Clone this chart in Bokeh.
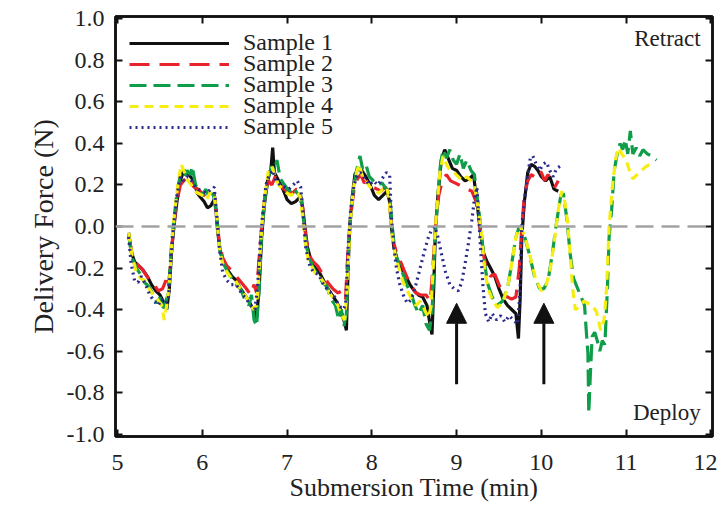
from bokeh.plotting import figure
from bokeh.models import (Legend, LegendItem, Span, Arrow, NormalHead, Label,
                          LinearAxis, FixedTicker, PrintfTickFormatter, CustomJSTickFormatter)
from bokeh.embed import file_html
from bokeh.resources import INLINE

# ---------------- data ----------------
s1_t = [5.13, 5.16, 5.20, 5.25, 5.30, 5.35, 5.40, 5.45, 5.50, 5.55, 5.58, 5.61, 5.64, 5.67, 5.70, 5.74, 5.78, 5.82, 5.86, 5.90,
        5.94, 5.98, 6.02, 6.06, 6.10, 6.14, 6.16, 6.18, 6.21, 6.25, 6.30, 6.35, 6.40, 6.45, 6.50, 6.55, 6.60, 6.64, 6.67, 6.70,
        6.73, 6.77, 6.81, 6.83, 6.85, 6.90, 6.95, 7.00, 7.05, 7.10, 7.15, 7.18, 7.21, 7.24, 7.28, 7.33, 7.38, 7.43, 7.48, 7.53,
        7.58, 7.63, 7.67, 7.70, 7.72, 7.74, 7.77, 7.80, 7.84, 7.88, 7.93, 7.98, 8.03, 8.08, 8.13, 8.18, 8.21, 8.23, 8.26, 8.30,
        8.35, 8.40, 8.45, 8.50, 8.55, 8.60, 8.65, 8.69, 8.71, 8.73, 8.75, 8.78, 8.82, 8.86, 8.90, 8.95, 9.00, 9.05, 9.10, 9.15,
        9.20, 9.23, 9.26, 9.29, 9.32, 9.36, 9.40, 9.45, 9.50, 9.55, 9.60, 9.65, 9.70, 9.73, 9.75, 9.77, 9.80, 9.84, 9.88, 9.92,
        9.96, 10.00, 10.05, 10.10, 10.15, 10.20]
s1_v = [-0.03, -0.12, -0.17, -0.19, -0.21, -0.24, -0.28, -0.31, -0.33, -0.37, -0.40, -0.30, -0.10, 0.02, 0.12, 0.22, 0.27, 0.26, 0.24, 0.22,
        0.16, 0.14, 0.12, 0.09, 0.10, 0.13, 0.08, -0.02, -0.12, -0.17, -0.21, -0.24, -0.26, -0.30, -0.33, -0.36, -0.40, -0.44, -0.30, -0.05,
        0.10, 0.22, 0.28, 0.38, 0.26, 0.22, 0.18, 0.13, 0.11, 0.12, 0.14, 0.10, 0.00, -0.10, -0.16, -0.20, -0.22, -0.26, -0.30, -0.33,
        -0.36, -0.40, -0.45, -0.50, -0.20, 0.00, 0.15, 0.25, 0.28, 0.27, 0.24, 0.20, 0.15, 0.13, 0.15, 0.17, 0.12, 0.00, -0.10, -0.16,
        -0.20, -0.24, -0.28, -0.31, -0.33, -0.34, -0.38, -0.48, -0.52, -0.30, -0.02, 0.15, 0.32, 0.37, 0.33, 0.28, 0.27, 0.24, 0.22, 0.23,
        0.25, 0.15, 0.05, -0.05, -0.13, -0.17, -0.20, -0.24, -0.30, -0.35, -0.38, -0.40, -0.42, -0.54, -0.35, -0.05, 0.12, 0.26, 0.30, 0.29,
        0.27, 0.24, 0.22, 0.24, 0.18, 0.17]

s2_t = [5.13, 5.17, 5.22, 5.28, 5.33, 5.38, 5.43, 5.48, 5.53, 5.57, 5.60, 5.63, 5.66, 5.70, 5.74, 5.78, 5.82, 5.86, 5.90, 5.95,
        6.00, 6.05, 6.10, 6.14, 6.17, 6.20, 6.24, 6.29, 6.34, 6.40, 6.46, 6.52, 6.57, 6.61, 6.64, 6.67, 6.70, 6.74, 6.78, 6.82,
        6.86, 6.91, 6.96, 7.01, 7.06, 7.11, 7.16, 7.19, 7.22, 7.26, 7.31, 7.36, 7.42, 7.48, 7.54, 7.60, 7.65, 7.69, 7.72, 7.75,
        7.79, 7.83, 7.87, 7.91, 7.96, 8.01, 8.06, 8.11, 8.16, 8.20, 8.23, 8.26, 8.30, 8.35, 8.41, 8.46, 8.52, 8.58, 8.64, 8.69,
        8.72, 8.75, 8.79, 8.83, 8.88, 8.93, 8.98, 9.03, 9.08, 9.13, 9.18, 9.23, 9.27, 9.31, 9.35, 9.40, 9.45, 9.50, 9.55, 9.60,
        9.65, 9.70, 9.74, 9.77, 9.80, 9.84, 9.88, 9.92, 9.96, 10.00, 10.04, 10.08, 10.12, 10.16, 10.20]
s2_v = [-0.04, -0.13, -0.18, -0.20, -0.23, -0.26, -0.28, -0.31, -0.30, -0.26, -0.30, -0.15, 0.00, 0.12, 0.20, 0.22, 0.24, 0.22, 0.19, 0.18,
        0.16, 0.14, 0.15, 0.16, 0.05, -0.08, -0.15, -0.19, -0.21, -0.24, -0.27, -0.30, -0.33, -0.28, -0.32, -0.15, 0.00, 0.15, 0.22, 0.20,
        0.24, 0.21, 0.18, 0.17, 0.16, 0.18, 0.17, 0.07, -0.05, -0.14, -0.17, -0.19, -0.23, -0.27, -0.30, -0.32, -0.31, -0.35, -0.10, 0.05,
        0.18, 0.23, 0.25, 0.21, 0.22, 0.19, 0.18, 0.17, 0.19, 0.16, 0.02, -0.08, -0.14, -0.18, -0.24, -0.28, -0.32, -0.33, -0.33, -0.36,
        -0.20, 0.00, 0.15, 0.22, 0.25, 0.22, 0.21, 0.20, 0.19, 0.18, 0.17, 0.12, 0.02, -0.12, -0.20, -0.24, -0.23, -0.28, -0.33, -0.34,
        -0.35, -0.34, -0.20, 0.00, 0.15, 0.22, 0.25, 0.24, 0.27, 0.26, 0.22, 0.25, 0.22, 0.19, 0.22]

s3_t = [5.13, 5.17, 5.22, 5.27, 5.32, 5.37, 5.42, 5.47, 5.50, 5.53, 5.57, 5.60, 5.63, 5.66, 5.70, 5.74, 5.78, 5.82, 5.86, 5.88,
        5.92, 5.96, 6.00, 6.04, 6.08, 6.12, 6.15, 6.18, 6.21, 6.25, 6.30, 6.35, 6.40, 6.45, 6.50, 6.55, 6.58, 6.61, 6.64, 6.67,
        6.70, 6.74, 6.78, 6.82, 6.85, 6.88, 6.92, 6.97, 7.02, 7.07, 7.12, 7.16, 7.19, 7.22, 7.26, 7.31, 7.37, 7.42, 7.47, 7.52,
        7.57, 7.61, 7.64, 7.67, 7.70, 7.72, 7.75, 7.78, 7.82, 7.86, 7.89, 7.93, 7.97, 8.02, 8.07, 8.12, 8.17, 8.21, 8.24, 8.27,
        8.31, 8.36, 8.41, 8.46, 8.50, 8.55, 8.60, 8.64, 8.68, 8.71, 8.74, 8.77, 8.81, 8.84, 8.88, 8.92, 8.96, 9.00, 9.04, 9.08,
        9.12, 9.17, 9.21, 9.25, 9.29, 9.33, 9.37, 9.42, 9.48, 9.54, 9.60, 9.65, 9.70, 9.74, 9.79, 9.85, 9.92, 9.98, 10.03, 10.08,
        10.13, 10.18, 10.23, 10.26, 10.30, 10.34, 10.38, 10.43, 10.48, 10.51, 10.53, 10.55, 10.56, 10.58, 10.60, 10.63, 10.66, 10.69, 10.72, 10.75,
        10.78, 10.80, 10.83, 10.86, 10.90, 10.93, 10.96, 10.99, 11.02, 11.05, 11.08, 11.12, 11.16, 11.20, 11.25, 11.30, 11.36]
s3_v = [-0.04, -0.15, -0.20, -0.23, -0.27, -0.29, -0.33, -0.37, -0.34, -0.40, -0.36, -0.32, -0.12, 0.02, 0.16, 0.25, 0.23, 0.27, 0.25, 0.29,
        0.20, 0.17, 0.15, 0.18, 0.14, 0.16, 0.12, 0.00, -0.12, -0.18, -0.22, -0.25, -0.28, -0.30, -0.35, -0.38, -0.33, -0.45, -0.48, -0.30,
        -0.02, 0.14, 0.24, 0.29, 0.27, 0.32, 0.23, 0.20, 0.17, 0.19, 0.16, 0.15, 0.05, -0.08, -0.15, -0.20, -0.24, -0.27, -0.29, -0.35,
        -0.38, -0.45, -0.40, -0.48, -0.42, -0.15, 0.05, 0.18, 0.27, 0.34, 0.28, 0.30, 0.24, 0.22, 0.20, 0.21, 0.18, 0.15, 0.00, -0.12,
        -0.17, -0.22, -0.28, -0.32, -0.37, -0.42, -0.38, -0.47, -0.50, -0.42, -0.10, 0.10, 0.30, 0.37, 0.33, 0.37, 0.32, 0.30, 0.35, 0.28,
        0.32, 0.27, 0.25, 0.12, -0.02, -0.18, -0.28, -0.34, -0.38, -0.36, -0.30, -0.18, -0.05, 0.00, -0.03, -0.12, -0.24, -0.30, -0.30, -0.26,
        -0.13, 0.02, 0.15, 0.16, 0.04, -0.13, -0.25, -0.30, -0.35, -0.38, -0.50, -0.61, -0.90, -0.70, -0.53, -0.51, -0.55, -0.60, -0.55, -0.57,
        -0.30, -0.05, 0.08, 0.27, 0.36, 0.40, 0.37, 0.42, 0.35, 0.46, 0.35, 0.38, 0.34, 0.37, 0.35, 0.34, 0.32]

s4_t = [5.13, 5.17, 5.22, 5.27, 5.32, 5.37, 5.42, 5.47, 5.52, 5.55, 5.58, 5.61, 5.64, 5.67, 5.71, 5.75, 5.79, 5.83, 5.87, 5.91,
        5.95, 6.00, 6.05, 6.10, 6.14, 6.17, 6.20, 6.24, 6.29, 6.34, 6.39, 6.45, 6.50, 6.55, 6.60, 6.64, 6.67, 6.70, 6.74, 6.78,
        6.82, 6.86, 6.90, 6.95, 7.00, 7.05, 7.10, 7.15, 7.18, 7.21, 7.25, 7.30, 7.35, 7.40, 7.45, 7.50, 7.55, 7.60, 7.64, 7.68,
        7.71, 7.74, 7.78, 7.82, 7.85, 7.89, 7.93, 7.98, 8.03, 8.08, 8.13, 8.18, 8.21, 8.24, 8.28, 8.32, 8.37, 8.42, 8.47, 8.52,
        8.57, 8.62, 8.67, 8.70, 8.73, 8.76, 8.80, 8.84, 8.88, 8.92, 8.97, 9.02, 9.07, 9.12, 9.17, 9.21, 9.25, 9.29, 9.33, 9.37,
        9.42, 9.48, 9.54, 9.60, 9.65, 9.70, 9.75, 9.80, 9.86, 9.93, 10.00, 10.05, 10.10, 10.15, 10.20, 10.24, 10.27, 10.31, 10.34, 10.37,
        10.40, 10.45, 10.50, 10.55, 10.60, 10.65, 10.70, 10.74, 10.77, 10.80, 10.84, 10.88, 10.91, 10.95, 11.00, 11.04, 11.08, 11.13, 11.18, 11.24,
        11.28]
s4_v = [-0.03, -0.14, -0.22, -0.25, -0.26, -0.30, -0.33, -0.35, -0.38, -0.45, -0.38, -0.28, -0.08, 0.06, 0.20, 0.30, 0.26, 0.22, 0.20, 0.17,
        0.16, 0.15, 0.13, 0.17, 0.15, 0.05, -0.10, -0.18, -0.22, -0.25, -0.26, -0.30, -0.33, -0.36, -0.40, -0.38, -0.22, 0.00, 0.16, 0.27,
        0.29, 0.24, 0.20, 0.18, 0.16, 0.15, 0.17, 0.15, 0.06, -0.06, -0.16, -0.20, -0.24, -0.25, -0.28, -0.32, -0.35, -0.38, -0.43, -0.45,
        -0.30, 0.00, 0.18, 0.26, 0.30, 0.24, 0.22, 0.19, 0.18, 0.16, 0.18, 0.19, 0.10, -0.05, -0.15, -0.20, -0.27, -0.31, -0.35, -0.38,
        -0.36, -0.40, -0.44, -0.38, -0.15, 0.05, 0.25, 0.34, 0.30, 0.27, 0.26, 0.24, 0.22, 0.24, 0.22, 0.20, 0.10, -0.02, -0.20, -0.30,
        -0.35, -0.39, -0.37, -0.30, -0.18, -0.05, 0.00, -0.04, -0.13, -0.25, -0.31, -0.29, -0.22, -0.08, 0.08, 0.17, 0.14, 0.02, -0.13, -0.30,
        -0.40, -0.39, -0.36, -0.37, -0.38, -0.41, -0.50, -0.45, -0.30, 0.00, 0.20, 0.33, 0.38, 0.35, 0.32, 0.27, 0.23, 0.25, 0.27, 0.29,
        0.30]

s5_t = [5.13, 5.16, 5.20, 5.24, 5.28, 5.33, 5.38, 5.43, 5.48, 5.52, 5.56, 5.60, 5.63, 5.66, 5.70, 5.74, 5.78, 5.82, 5.86, 5.90,
        5.95, 6.00, 6.05, 6.10, 6.14, 6.17, 6.20, 6.24, 6.29, 6.34, 6.40, 6.46, 6.52, 6.57, 6.62, 6.65, 6.68, 6.71, 6.75, 6.79,
        6.83, 6.87, 6.92, 6.97, 7.02, 7.07, 7.12, 7.16, 7.19, 7.22, 7.26, 7.31, 7.37, 7.43, 7.49, 7.55, 7.61, 7.66, 7.69, 7.72,
        7.75, 7.79, 7.83, 7.87, 7.92, 7.97, 8.02, 8.07, 8.12, 8.17, 8.21, 8.23, 8.26, 8.29, 8.33, 8.38, 8.42, 8.47, 8.52, 8.57,
        8.62, 8.66, 8.70, 8.74, 8.78, 8.82, 8.87, 8.92, 8.97, 9.02, 9.06, 9.10, 9.14, 9.18, 9.21, 9.24, 9.26, 9.29, 9.31, 9.34,
        9.38, 9.42, 9.47, 9.52, 9.57, 9.62, 9.67, 9.72, 9.75, 9.77, 9.80, 9.83, 9.87, 9.90, 9.94, 9.98, 10.02, 10.06, 10.10, 10.14,
        10.18, 10.22]
s5_v = [-0.05, -0.18, -0.26, -0.27, -0.24, -0.28, -0.33, -0.36, -0.38, -0.35, -0.37, -0.35, -0.15, 0.00, 0.15, 0.24, 0.22, 0.24, 0.23, 0.20,
        0.18, 0.17, 0.16, 0.18, 0.19, 0.05, -0.10, -0.22, -0.26, -0.28, -0.28, -0.32, -0.35, -0.38, -0.40, -0.30, -0.10, 0.05, 0.20, 0.25,
        0.27, 0.22, 0.20, 0.19, 0.18, 0.20, 0.22, 0.19, 0.05, -0.10, -0.18, -0.22, -0.23, -0.28, -0.31, -0.33, -0.38, -0.40, -0.38, -0.10,
        0.08, 0.20, 0.25, 0.26, 0.23, 0.20, 0.22, 0.20, 0.23, 0.26, 0.25, 0.05, -0.10, -0.20, -0.28, -0.34, -0.37, -0.35, -0.28, -0.20,
        -0.12, -0.06, -0.02, 0.00, -0.05, -0.13, -0.22, -0.28, -0.30, -0.31, -0.27, -0.18, -0.08, 0.03, 0.13, 0.19, 0.05, -0.15, -0.28, -0.42,
        -0.46, -0.42, -0.45, -0.43, -0.46, -0.43, -0.45, -0.47, -0.31, 0.00, 0.12, 0.22, 0.33, 0.34, 0.30, 0.27, 0.30, 0.31, 0.27, 0.24,
        0.28, 0.29]

names = ["Sample 1", "Sample 2", "Sample 3", "Sample 4", "Sample 5"]
x_ticks = [5, 6, 7, 8, 9, 10, 11, 12]
y_ticks = [-1.0, -0.8, -0.6, -0.4, -0.2, 0.0, 0.2, 0.4, 0.6, 0.8, 1.0]
arrow_x = [9.0, 10.03]
arrow_y0 = [-0.76, -0.76]
arrow_y1 = [-0.37, -0.37]

# ---------------- figure ----------------
FONT = "Liberation Serif"
TXT = "#222222"

p = figure(width=717, height=512, x_range=(4.975, 12.02), y_range=(-1.012, 1.012),
           output_backend="svg", toolbar_location=None,
           min_border_left=115, min_border_right=5, min_border_top=16, min_border_bottom=76)
p.grid.visible = False
p.outline_line_color = "#111111"
p.outline_line_width = 2.5
p.background_fill_color = "white"
p.border_fill_color = "white"

xa = p.xaxis[0]
ya = p.yaxis[0]
xa_top = LinearAxis()
ya_right = LinearAxis()
p.add_layout(xa_top, "above")
p.add_layout(ya_right, "right")
ax_ticks = {xa: x_ticks, ya: y_ticks, xa_top: x_ticks, ya_right: y_ticks}

for ax in (xa, ya, xa_top, ya_right):
    ax.ticker = FixedTicker(ticks=ax_ticks[ax])
    ax.major_tick_in = 7
    ax.major_tick_out = 0
    ax.minor_tick_line_color = None
    ax.axis_line_width = 2.5
    ax.axis_line_color = "#111111"
    ax.major_tick_line_width = 2
    ax.major_tick_line_color = "#111111"
    ax.major_label_text_font = FONT
    ax.major_label_text_color = TXT
    ax.major_label_text_font_size = "24px"
    ax.axis_label_text_font = FONT
    ax.axis_label_text_font_style = "normal"
    ax.axis_label_text_color = TXT
    ax.axis_label_text_font_size = "26px"

for ax in (xa_top, ya_right):
    ax.formatter = CustomJSTickFormatter(code="return ''")
    ax.major_label_standoff = 0
    ax.axis_label_standoff = 0

xa.major_label_standoff = 18
xa.axis_label = "Submersion Time (min)"
xa.axis_label_standoff = 0
ya.major_label_standoff = 11
ya.axis_label = "Delivery Force (N)"
ya.axis_label_standoff = 5
ya.axis_label_text_font_size = "28px"
ya.formatter = PrintfTickFormatter(format="%.1f")

# zero line
p.add_layout(Span(location=0, dimension="width", line_color="#a3a3a3",
                  line_width=2.5, line_dash="18 8"))

series = [(s1_t, s1_v, "#111111", "solid"),
          (s2_t, s2_v, "#e8232b", "20 10"),
          (s3_t, s3_v, "#0f9d4a", "17 7"),
          (s4_t, s4_v, "#f6ee12", "9 6"),
          (s5_t, s5_v, "#2a2a8c", "2 4")]
renderers = []
for t, v, col, dash in series:
    r = p.line(t, v, line_color=col, line_width=3.2, line_dash=dash)
    renderers.append(r)

# one legend box per entry so that rows sit as tightly as in the original
ROW0_BOTTOM = 380   # px above the frame bottom for the first legend row
ROW_STEP = 21
for k, (n, r) in enumerate(zip(names, renderers)):
    lg = Legend(items=[LegendItem(label=n, renderers=[r])],
                location=(14, ROW0_BOTTOM - ROW_STEP * k),
                border_line_color=None, background_fill_alpha=0,
                glyph_width=100, glyph_height=20, label_height=20, spacing=0,
                label_standoff=14, padding=0, margin=0,
                label_text_font=FONT, label_text_font_size="24px", label_text_color=TXT)
    p.add_layout(lg)

for xa_, y0, y1 in zip(arrow_x, arrow_y0, arrow_y1):
    p.add_layout(Arrow(x_start=xa_, y_start=y0, x_end=xa_, y_end=y1, line_width=3,
                       line_color="#111111",
                       end=NormalHead(size=20, fill_color="#111111", line_color="#111111")))

p.add_layout(Label(x=11.88, y=0.845, text="Retract", text_align="right", text_font=FONT,
                   text_font_size="23px", text_color=TXT))
p.add_layout(Label(x=11.88, y=-0.955, text="Deploy", text_align="right", text_font=FONT,
                   text_font_size="23px", text_color=TXT))

open("out.html", "w").write(file_html(p, INLINE))
